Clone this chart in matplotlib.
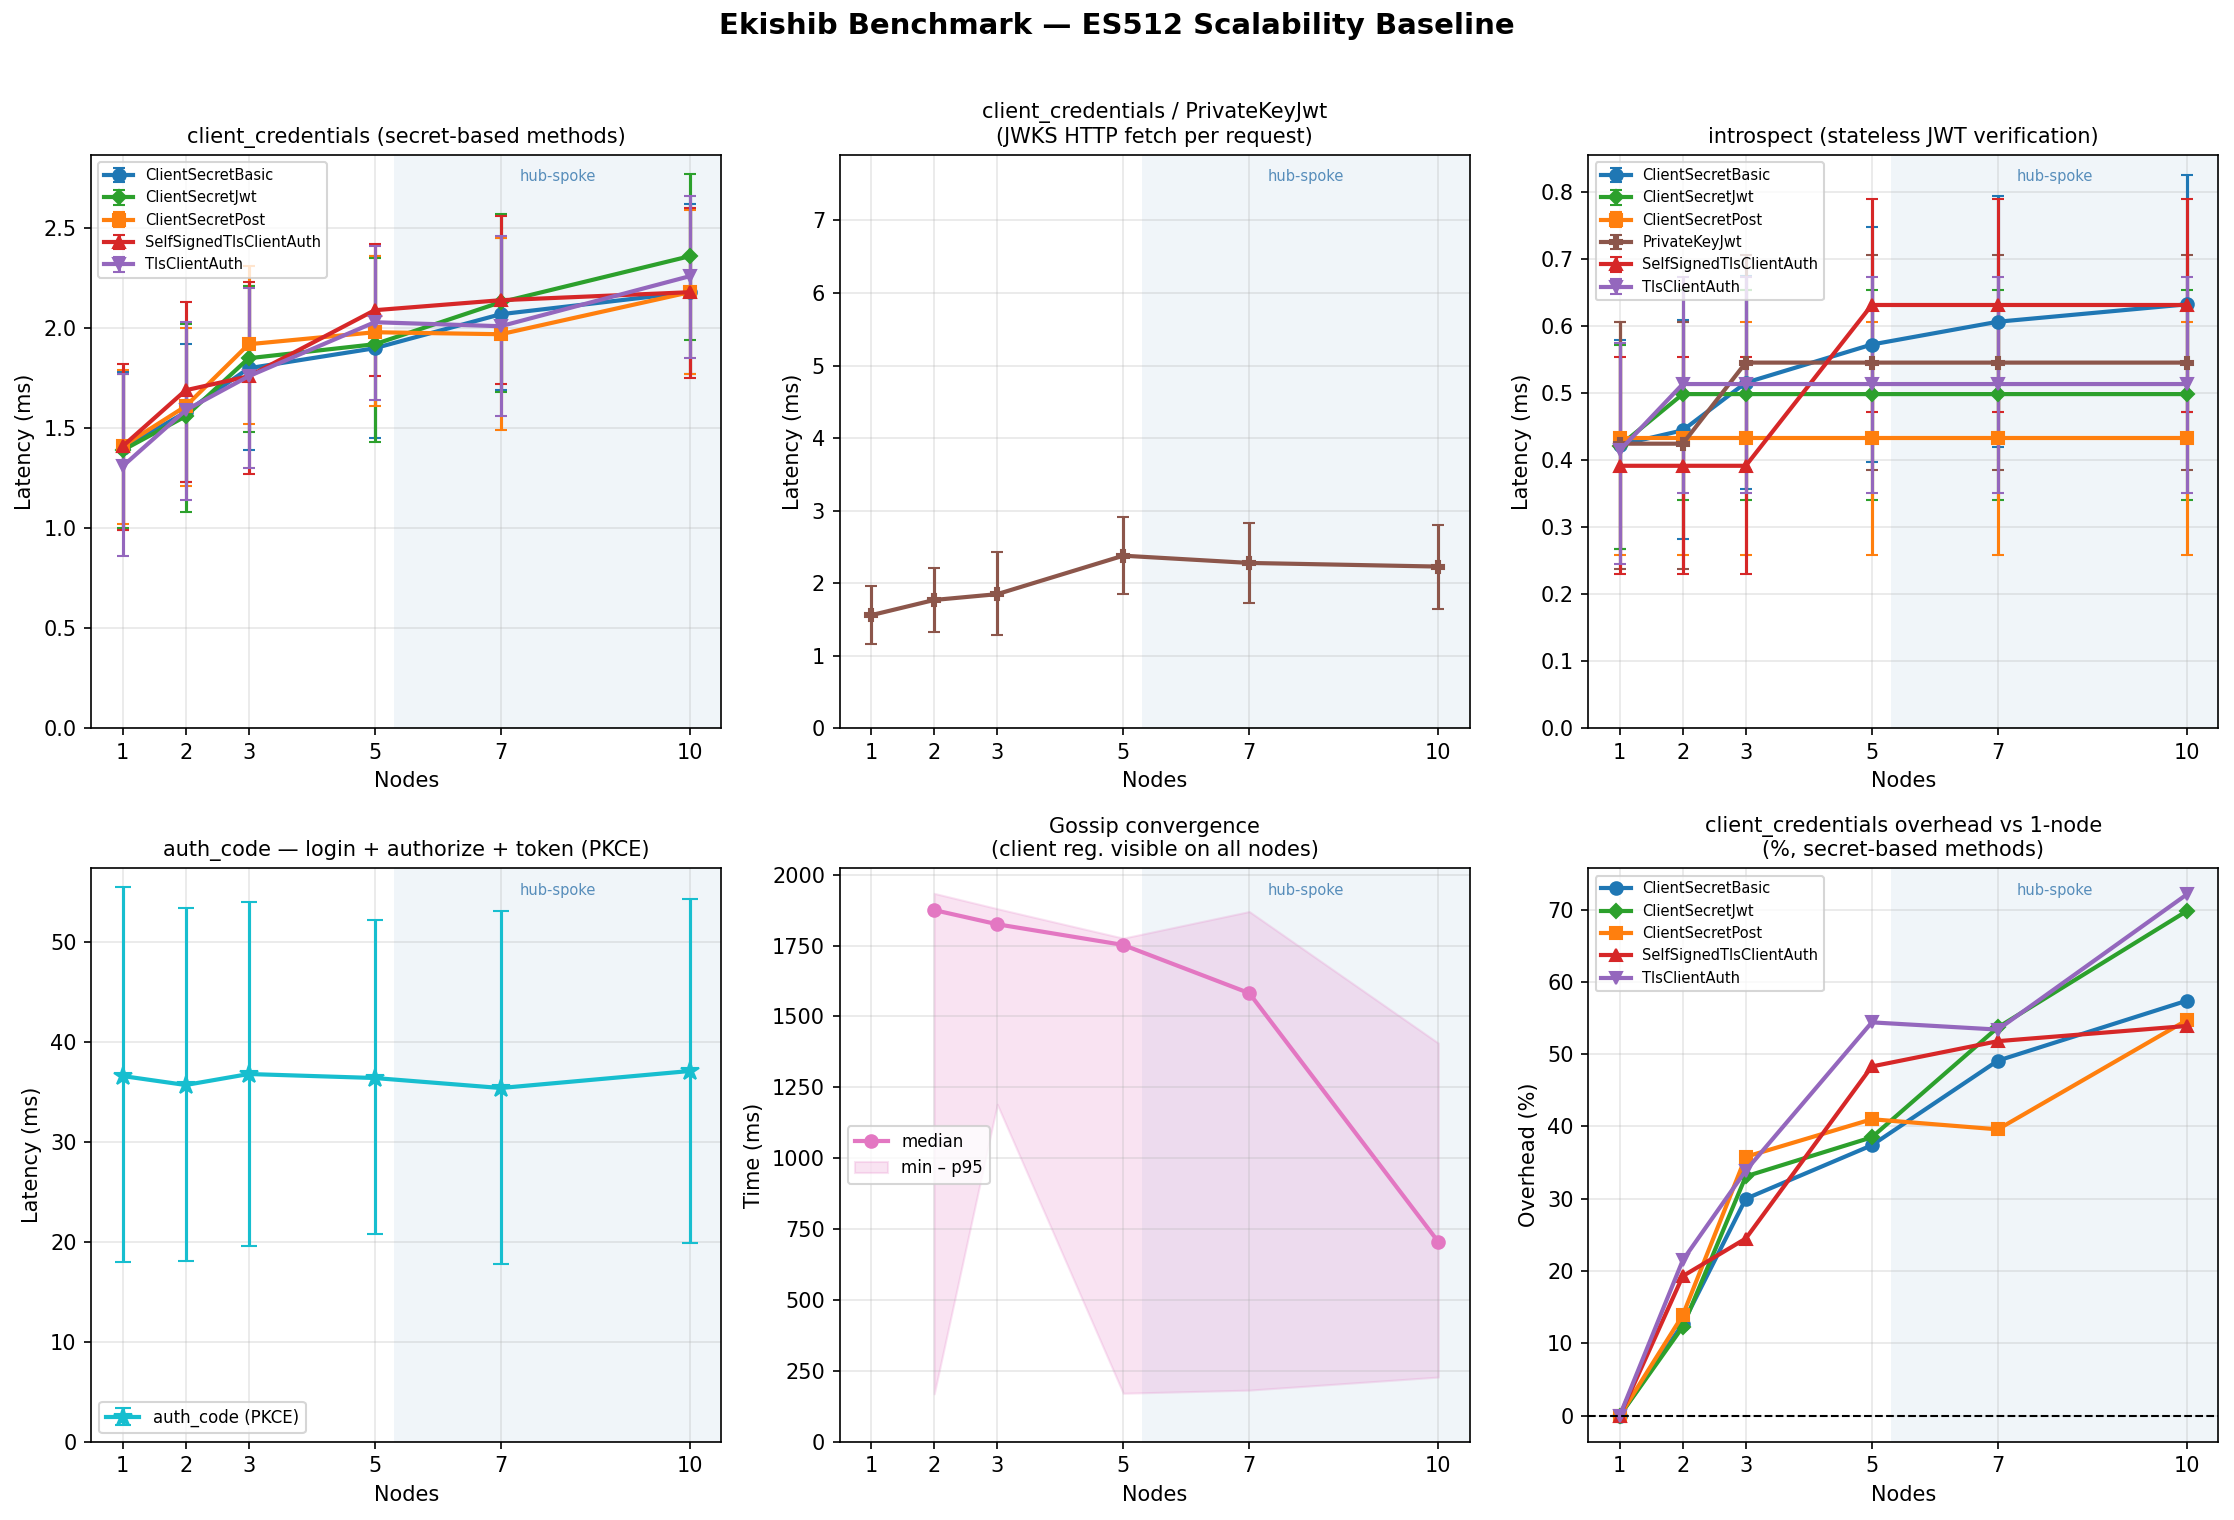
import numpy as np
import matplotlib
matplotlib.use("Agg")
import matplotlib.pyplot as plt

# ---------------- data ----------------
nodes = [1, 2, 3, 5, 7, 10]

secret_methods = ["ClientSecretBasic", "ClientSecretJwt", "ClientSecretPost",
                  "SelfSignedTlsClientAuth", "TlsClientAuth"]

# client_credentials latency (ms): mean, low, high
cc_mean = {
    "ClientSecretBasic":       [1.40, 1.58, 1.80, 1.90, 2.07, 2.18],
    "ClientSecretJwt":         [1.39, 1.56, 1.85, 1.92, 2.13, 2.36],
    "ClientSecretPost":        [1.41, 1.61, 1.92, 1.98, 1.97, 2.18],
    "SelfSignedTlsClientAuth": [1.41, 1.69, 1.76, 2.09, 2.14, 2.18],
    "TlsClientAuth":           [1.31, 1.59, 1.76, 2.03, 2.01, 2.26],
}
cc_low = {
    "ClientSecretBasic":       [0.99, 1.23, 1.39, 1.45, 1.69, 1.77],
    "ClientSecretJwt":         [1.00, 1.08, 1.48, 1.43, 1.68, 1.94],
    "ClientSecretPost":        [1.02, 1.21, 1.52, 1.61, 1.49, 1.77],
    "SelfSignedTlsClientAuth": [0.99, 1.23, 1.27, 1.76, 1.72, 1.75],
    "TlsClientAuth":           [0.86, 1.14, 1.30, 1.64, 1.56, 1.85],
}
cc_high = {
    "ClientSecretBasic":       [1.78, 1.92, 2.21, 2.36, 2.45, 2.62],
    "ClientSecretJwt":         [1.77, 2.02, 2.21, 2.35, 2.57, 2.77],
    "ClientSecretPost":        [1.79, 2.00, 2.31, 2.36, 2.45, 2.59],
    "SelfSignedTlsClientAuth": [1.82, 2.13, 2.23, 2.42, 2.56, 2.60],
    "TlsClientAuth":           [1.77, 2.03, 2.20, 2.41, 2.46, 2.66],
}

# PrivateKeyJwt
pkj_mean = [1.56, 1.77, 1.85, 2.38, 2.28, 2.23]
pkj_low = [1.16, 1.33, 1.29, 1.85, 1.73, 1.65]
pkj_high = [1.96, 2.21, 2.43, 2.91, 2.83, 2.80]

# introspect
intro_methods = ["ClientSecretBasic", "ClientSecretJwt", "ClientSecretPost",
                 "PrivateKeyJwt", "SelfSignedTlsClientAuth", "TlsClientAuth"]
intro_mean = {
    "ClientSecretBasic":       [0.423, 0.445, 0.516, 0.573, 0.607, 0.633],
    "ClientSecretJwt":         [0.422, 0.499, 0.499, 0.499, 0.499, 0.499],
    "ClientSecretPost":        [0.433, 0.433, 0.433, 0.433, 0.433, 0.433],
    "PrivateKeyJwt":           [0.425, 0.425, 0.546, 0.546, 0.546, 0.546],
    "SelfSignedTlsClientAuth": [0.392, 0.392, 0.392, 0.632, 0.632, 0.632],
    "TlsClientAuth":           [0.415, 0.514, 0.514, 0.514, 0.514, 0.514],
}
intro_low = {
    "ClientSecretBasic":       [0.268, 0.282, 0.358, 0.397, 0.420, 0.473],
    "ClientSecretJwt":         [0.268, 0.341, 0.341, 0.341, 0.341, 0.341],
    "ClientSecretPost":        [0.259, 0.259, 0.259, 0.259, 0.259, 0.259],
    "PrivateKeyJwt":           [0.238, 0.238, 0.385, 0.385, 0.385, 0.385],
    "SelfSignedTlsClientAuth": [0.230, 0.230, 0.230, 0.473, 0.473, 0.473],
    "TlsClientAuth":           [0.246, 0.351, 0.351, 0.351, 0.351, 0.351],
}
intro_high = {
    "ClientSecretBasic":       [0.579, 0.610, 0.675, 0.748, 0.794, 0.826],
    "ClientSecretJwt":         [0.572, 0.655, 0.655, 0.655, 0.655, 0.655],
    "ClientSecretPost":        [0.607, 0.607, 0.607, 0.607, 0.607, 0.607],
    "PrivateKeyJwt":           [0.607, 0.607, 0.706, 0.706, 0.706, 0.706],
    "SelfSignedTlsClientAuth": [0.555, 0.555, 0.555, 0.790, 0.790, 0.790],
    "TlsClientAuth":           [0.575, 0.674, 0.674, 0.674, 0.674, 0.674],
}

# auth_code (PKCE)
ac_mean = [36.6, 35.7, 36.8, 36.4, 35.4, 37.1]
ac_low = [18.0, 18.1, 19.6, 20.8, 17.8, 19.9]
ac_high = [55.5, 53.4, 54.0, 52.2, 53.1, 54.3]

# gossip convergence (ms)
gossip_nodes = [2, 3, 5, 7, 10]
gossip_median = [1875, 1825, 1752, 1582, 705]
gossip_min = [169, 1190, 171, 182, 228]
gossip_p95 = [1934, 1880, 1776, 1870, 1406]

# overhead vs 1-node (%)
overhead = {
    "ClientSecretBasic":       [0.0, 12.7, 30.0, 37.4, 49.1, 57.4],
    "ClientSecretJwt":         [0.0, 12.3, 33.1, 38.5, 53.7, 69.8],
    "ClientSecretPost":        [0.0, 13.9, 35.8, 41.0, 39.6, 54.7],
    "SelfSignedTlsClientAuth": [0.0, 19.3, 24.5, 48.3, 51.8, 53.9],
    "TlsClientAuth":           [0.0, 21.5, 33.9, 54.4, 53.4, 72.1],
}

colors = {
    "ClientSecretBasic": "tab:blue",
    "ClientSecretJwt": "tab:green",
    "ClientSecretPost": "tab:orange",
    "PrivateKeyJwt": "tab:brown",
    "SelfSignedTlsClientAuth": "tab:red",
    "TlsClientAuth": "tab:purple",
}
markers = {
    "ClientSecretBasic": "o",
    "ClientSecretJwt": "D",
    "ClientSecretPost": "s",
    "PrivateKeyJwt": "P",
    "SelfSignedTlsClientAuth": "^",
    "TlsClientAuth": "v",
}
msizes = {"ClientSecretJwt": 5}


def yerr(mean, low, high):
    m = np.array(mean)
    return [m - np.array(low), np.array(high) - m]


def style(ax, ylabel):
    ax.axvspan(5.3, 10.5, color="steelblue", alpha=0.08, zorder=0, lw=0)
    ax.text(7.9, 0.975, "hub-spoke", transform=ax.get_xaxis_transform(),
            ha="center", va="top", fontsize=7, color="steelblue", alpha=0.9)
    ax.set_xticks(nodes)
    ax.set_xlim(0.5, 10.5)
    ax.set_xlabel("Nodes")
    ax.set_ylabel(ylabel)
    ax.grid(True, alpha=0.3)


fig, axes = plt.subplots(2, 3, figsize=(2234 / 150, 1520 / 150), dpi=150)
fig.subplots_adjust(left=0.0408, right=0.993, top=0.898, bottom=0.0515,
                    wspace=0.188, hspace=0.244)
fig.suptitle("Ekishib Benchmark — ES512 Scalability Baseline",
             fontsize=14, fontweight="bold", y=0.992)

# 1: client_credentials secret-based
ax = axes[0, 0]
for m in secret_methods:
    ax.errorbar(nodes, cc_mean[m], yerr=yerr(cc_mean[m], cc_low[m], cc_high[m]),
                label=m, color=colors[m], marker=markers[m],
                markersize=msizes.get(m, 6), lw=2, capsize=3, elinewidth=1.5)
style(ax, "Latency (ms)")
ax.set_ylim(bottom=0)
ax.set_title("client_credentials (secret-based methods)", fontsize=10)
ax.legend(loc="upper left", fontsize=7)

# 2: PrivateKeyJwt
ax = axes[0, 1]
ax.errorbar(nodes, pkj_mean, yerr=yerr(pkj_mean, pkj_low, pkj_high),
            color=colors["PrivateKeyJwt"], marker="P", markersize=6,
            lw=2, capsize=3, elinewidth=1.5)
style(ax, "Latency (ms)")
ax.set_ylim(0, 7.9)
ax.set_title("client_credentials / PrivateKeyJwt\n(JWKS HTTP fetch per request)",
             fontsize=10)

# 3: introspect
ax = axes[0, 2]
for m in intro_methods:
    ax.errorbar(nodes, intro_mean[m],
                yerr=yerr(intro_mean[m], intro_low[m], intro_high[m]),
                label=m, color=colors[m], marker=markers[m],
                markersize=msizes.get(m, 6), lw=2, capsize=3, elinewidth=1.5)
style(ax, "Latency (ms)")
ax.set_ylim(bottom=0)
ax.set_title("introspect (stateless JWT verification)", fontsize=10)
ax.legend(loc="upper left", fontsize=7)

# 4: auth_code
ax = axes[1, 0]
ax.errorbar(nodes, ac_mean, yerr=yerr(ac_mean, ac_low, ac_high),
            label="auth_code (PKCE)", color="tab:cyan", marker="*",
            markersize=9, lw=2, capsize=4, elinewidth=1.5)
style(ax, "Latency (ms)")
ax.set_ylim(bottom=0)
ax.set_title("auth_code — login + authorize + token (PKCE)", fontsize=10)
ax.legend(loc="lower left", fontsize=8)

# 5: gossip
ax = axes[1, 1]
ax.fill_between(gossip_nodes, gossip_min, gossip_p95, color="tab:pink",
                alpha=0.2, label="min – p95")
ax.plot(gossip_nodes, gossip_median, color="tab:pink", marker="o",
        markersize=6, lw=2, label="median")
style(ax, "Time (ms)")
ax.set_ylim(bottom=0)
ax.set_title("Gossip convergence\n(client reg. visible on all nodes)", fontsize=10)
h, l = ax.get_legend_handles_labels()
ax.legend(h[::-1], l[::-1], loc="center left", fontsize=8)

# 6: overhead
ax = axes[1, 2]
for m in secret_methods:
    ax.plot(nodes, overhead[m], label=m, color=colors[m], marker=markers[m],
            markersize=msizes.get(m, 6), lw=2)
ax.axhline(0, color="black", ls="--", lw=1)
style(ax, "Overhead (%)")
ax.set_title("client_credentials overhead vs 1-node\n(%, secret-based methods)",
             fontsize=10)
ax.legend(loc="upper left", fontsize=7)

fig.savefig("out.png", dpi=150)
